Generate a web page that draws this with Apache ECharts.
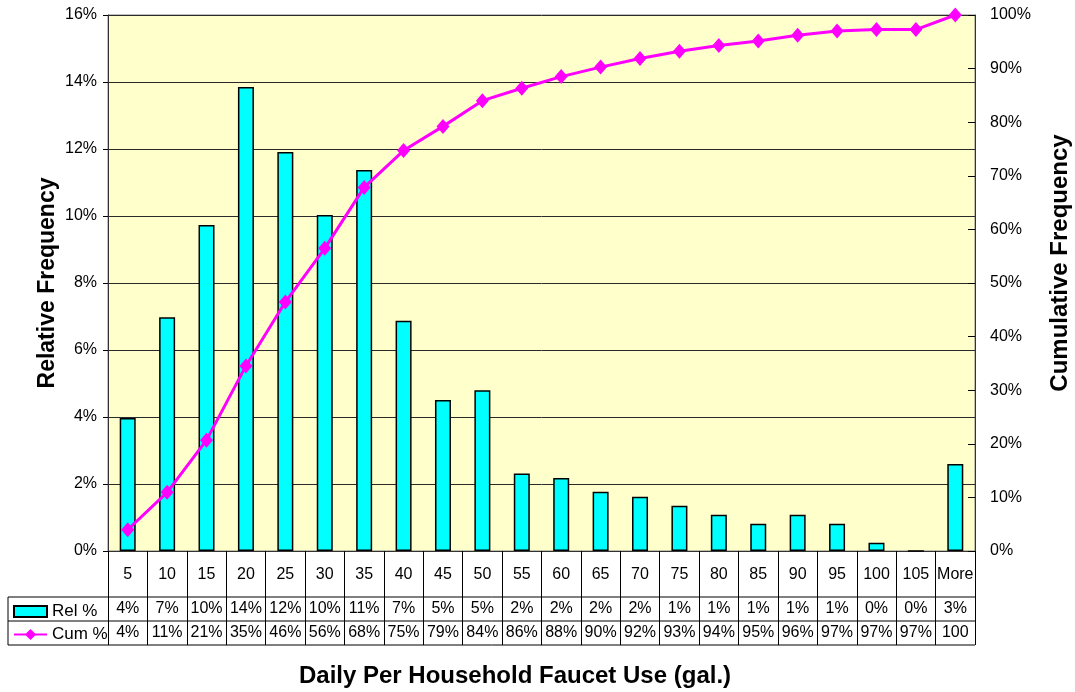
<!DOCTYPE html>
<html>
<head>
<meta charset="utf-8">
<title>Daily Per Household Faucet Use</title>
<script src="https://cdn.jsdelivr.net/npm/echarts@6/dist/echarts.min.js"></script>
<style>
  html, body { margin: 0; padding: 0; background: #ffffff; }
  #chart { width: 1075px; height: 692px; }
</style>
</head>
<body>
<div id="chart"></div>
<script>
// Bin upper limits (gallons per household per day)
const categories = ['5', '10', '15', '20', '25', '30', '35', '40', '45', '50', '55',
  '60', '65', '70', '75', '80', '85', '90', '95', '100', '105', 'More'];

// Relative frequency of each bin, in percent
const relFreq = [3.97, 6.98, 9.73, 13.85, 11.91, 10.03, 11.37, 6.87, 4.51, 4.80, 2.31,
  2.18, 1.77, 1.62, 1.35, 1.08, 0.81, 1.08, 0.81, 0.25, 0, 2.60];

// Cumulative frequency up to each bin, in percent
const cumFreq = [3.97, 10.95, 20.68, 34.53, 46.44, 56.47, 67.84, 74.71, 79.22, 84.02, 86.33,
  88.51, 90.28, 91.90, 93.25, 94.33, 95.14, 96.22, 97.03, 97.28, 97.28, 100];

// Rows of the data table under the axis
const relLabels = ['4%', '7%', '10%', '14%', '12%', '10%', '11%', '7%', '5%', '5%', '2%',
  '2%', '2%', '2%', '1%', '1%', '1%', '1%', '1%', '0%', '0%', '3%'];
const cumLabels = ['4%', '11%', '21%', '35%', '46%', '56%', '68%', '75%', '79%', '84%', '86%',
  '88%', '90%', '92%', '93%', '94%', '95%', '96%', '97%', '97%', '97%', '100'];

// Layout
const W = 1075, H = 692;
const PLOT_L = 108, PLOT_T = 15, PLOT_R = 975, PLOT_B = 551;
const ROW_CAT = 46, ROW_H = 24;
const TABLE_L = 8;
const FONT = '"Liberation Sans", Arial, Helvetica, sans-serif';
const FS = 16;

const yRel = PLOT_B + ROW_CAT;          // top of "Rel %" row
const yCum = yRel + ROW_H;              // top of "Cum %" row
const yEnd = yCum + ROW_H;              // bottom of table

const chart = echarts.init(document.getElementById('chart'), null, { renderer: 'canvas' });

const tableAxis = (data, offset) => ({
  type: 'category',
  data: data,
  position: 'bottom',
  offset: offset,
  boundaryGap: true,
  axisLine: { show: false },
  axisTick: { show: false },
  axisLabel: { interval: 0, margin: 4, color: '#000', fontFamily: FONT, fontSize: FS }
});

const titleStyle = (text, size) => ({
  text: text, fill: '#000', font: 'bold ' + size + 'px ' + FONT,
  textAlign: 'center', textVerticalAlign: 'middle'
});

const option = {
  backgroundColor: '#ffffff',
  animation: false,
  textStyle: { fontFamily: FONT },
  grid: {
    left: PLOT_L, top: PLOT_T, right: W - PLOT_R, bottom: H - PLOT_B,
    show: true, backgroundColor: '#FFFFCC', borderColor: '#808080', borderWidth: 1
  },
  legend: [
    {
      data: [{ name: 'Rel %', icon: 'rect' }], left: 13, top: yRel + 6, padding: 0,
      itemWidth: 33, itemHeight: 11, itemGap: 5,
      textStyle: { color: '#000', fontFamily: FONT, fontSize: 17 }
    },
    {
      data: ['Cum %'], left: 13, top: yCum + 5, padding: 0,
      itemWidth: 33, itemHeight: 14, itemGap: 5,
      textStyle: { color: '#000', fontFamily: FONT, fontSize: 17 }
    }
  ],
  xAxis: [
    {
      type: 'category',
      data: categories,
      position: 'bottom',
      boundaryGap: true,
      axisLine: { show: true, lineStyle: { color: '#333', width: 1 } },
      axisTick: { show: true, interval: 0, length: ROW_CAT + 2 * ROW_H, lineStyle: { color: '#000', width: 1 } },
      axisLabel: { interval: 0, margin: 16, color: '#000', fontFamily: FONT, fontSize: FS }
    },
    tableAxis(relLabels, ROW_CAT),
    tableAxis(cumLabels, ROW_CAT + ROW_H)
  ],
  yAxis: [
    {
      type: 'value', min: 0, max: 16, interval: 2,
      axisLine: { show: true, lineStyle: { color: '#333', width: 1 } },
      axisTick: { show: true, length: 5, lineStyle: { color: '#000' } },
      axisLabel: { formatter: '{value}%', margin: 11, color: '#000', fontFamily: FONT, fontSize: FS },
      splitLine: { show: true, lineStyle: { color: '#2a2a2a', width: 1 } }
    },
    {
      type: 'value', min: 0, max: 100, interval: 10, position: 'right',
      axisLine: { show: true, lineStyle: { color: '#333', width: 1 } },
      axisTick: { show: true, inside: true, length: 7, lineStyle: { color: '#000' } },
      axisLabel: { formatter: '{value}%', margin: 15, color: '#000', fontFamily: FONT, fontSize: FS },
      splitLine: { show: false }
    }
  ],
  series: [
    {
      name: 'Rel %',
      type: 'bar',
      xAxisIndex: 0, yAxisIndex: 0,
      data: relFreq,
      barWidth: 16,
      itemStyle: { color: '#00FFFF', borderColor: '#000', borderWidth: 1.5 },
      z: 2
    },
    {
      name: 'Cum %',
      type: 'line',
      xAxisIndex: 0, yAxisIndex: 1,
      data: cumFreq,
      symbol: 'diamond',
      symbolSize: [13, 15],
      lineStyle: { color: '#FF00FF', width: 3 },
      itemStyle: { color: '#FF00FF' },
      z: 3
    }
  ],
  graphic: [
    // table rules
    { type: 'line', shape: { x1: TABLE_L, y1: yRel, x2: PLOT_R, y2: yRel }, style: { stroke: '#000', lineWidth: 1 } },
    { type: 'line', shape: { x1: TABLE_L, y1: yCum, x2: PLOT_R, y2: yCum }, style: { stroke: '#000', lineWidth: 1 } },
    { type: 'line', shape: { x1: TABLE_L, y1: yEnd, x2: PLOT_R, y2: yEnd }, style: { stroke: '#000', lineWidth: 1 } },
    { type: 'line', shape: { x1: TABLE_L, y1: yRel, x2: TABLE_L, y2: yEnd }, style: { stroke: '#000', lineWidth: 1 } },
    // axis titles
    { type: 'text', x: 48, y: 283, rotation: Math.PI / 2, style: titleStyle('Relative Frequency', 23) },
    { type: 'text', x: 1060, y: 263, rotation: Math.PI / 2, style: titleStyle('Cumulative Frequency', 24) },
    { type: 'text', x: 515, y: 676, style: titleStyle('Daily Per Household Faucet Use (gal.)', 24) }
  ]
};

chart.setOption(option);
</script>
</body>
</html>
